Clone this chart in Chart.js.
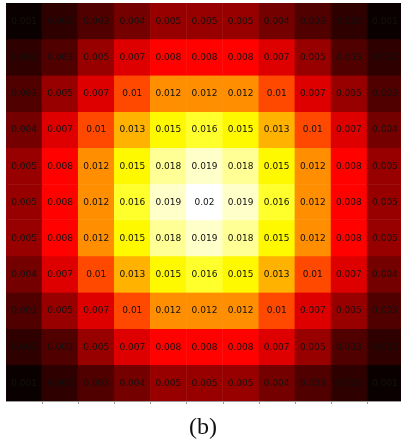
<!DOCTYPE html>
<html>
<head>
<meta charset="utf-8">
<script src="https://cdn.jsdelivr.net/npm/chart.js@4/dist/chart.umd.min.js"></script>
<style>
  html, body { margin: 0; padding: 0; background: #fff; overflow: hidden; width: 401px; height: 448px; }
  #wrap { position: absolute; left: 0; top: 0; width: 410px; height: 448px; }
  #cap { position: absolute; left: 0; width: 406px; top: 413px; text-align: center;
         font-family: "Liberation Serif", "DejaVu Serif", serif; font-size: 24px; color: #111; }
</style>
</head>
<body>
<div id="wrap"><canvas id="c" width="410" height="448"></canvas></div>
<div id="cap">(b)</div>
<script>
// Column and row labels (indices of the 11x11 grid)
const columns = ["0","1","2","3","4","5","6","7","8","9","10"];
const rowsLabels = ["0","1","2","3","4","5","6","7","8","9","10"];

// Cell values, one array per row (top to bottom)
const row0  = [0.001, 0.002, 0.003, 0.004, 0.005, 0.005, 0.005, 0.004, 0.003, 0.002, 0.001];
const row1  = [0.002, 0.003, 0.005, 0.007, 0.008, 0.008, 0.008, 0.007, 0.005, 0.003, 0.002];
const row2  = [0.003, 0.005, 0.007, 0.01,  0.012, 0.012, 0.012, 0.01,  0.007, 0.005, 0.003];
const row3  = [0.004, 0.007, 0.01,  0.013, 0.015, 0.016, 0.015, 0.013, 0.01,  0.007, 0.004];
const row4  = [0.005, 0.008, 0.012, 0.015, 0.018, 0.019, 0.018, 0.015, 0.012, 0.008, 0.005];
const row5  = [0.005, 0.008, 0.012, 0.016, 0.019, 0.02,  0.019, 0.016, 0.012, 0.008, 0.005];
const row6  = [0.005, 0.008, 0.012, 0.015, 0.018, 0.019, 0.018, 0.015, 0.012, 0.008, 0.005];
const row7  = [0.004, 0.007, 0.01,  0.013, 0.015, 0.016, 0.015, 0.013, 0.01,  0.007, 0.004];
const row8  = [0.003, 0.005, 0.007, 0.01,  0.012, 0.012, 0.012, 0.01,  0.007, 0.005, 0.003];
const row9  = [0.002, 0.003, 0.005, 0.007, 0.008, 0.008, 0.008, 0.007, 0.005, 0.003, 0.002];
const row10 = [0.001, 0.002, 0.003, 0.004, 0.005, 0.005, 0.005, 0.004, 0.003, 0.002, 0.001];
const grid = [row0,row1,row2,row3,row4,row5,row6,row7,row8,row9,row10];

const vmin = 0.001, vmax = 0.02;

// matplotlib "hot" colormap
function hot(v) {
  let x = (v - vmin) / (vmax - vmin);
  x = Math.max(0, Math.min(1, x));
  const r1 = 0.365079, g1 = 0.746032;
  const r = x < r1 ? 0.0416 + (1 - 0.0416) * x / r1 : 1;
  const g = x < r1 ? 0 : (x < g1 ? (x - r1) / (g1 - r1) : 1);
  const b = x < g1 ? 0 : (x - g1) / (1 - g1);
  return `rgb(${Math.round(r*255)},${Math.round(g*255)},${Math.round(b*255)})`;
}

const datasets = grid.map((vals, r) => ({
  label: rowsLabels[r],
  data: vals.map(() => [r, r + 1]),
  values: vals,
  backgroundColor: vals.map(hot),
  borderColor: vals.map(hot),
  borderWidth: 0.6,
  borderSkipped: false,
  barPercentage: 1.0,
  categoryPercentage: 1.0,
  grouped: false
}));

const annotate = {
  id: 'annotate',
  afterDatasetsDraw(chart) {
    const ctx = chart.ctx;
    ctx.save();
    ctx.font = '9px "DejaVu Sans"';
    ctx.fillStyle = '#111111';
    ctx.textAlign = 'center';
    ctx.textBaseline = 'middle';
    chart.data.datasets.forEach((ds, di) => {
      const meta = chart.getDatasetMeta(di);
      meta.data.forEach((el, i) => {
        const cy = (el.y + el.base) / 2;
        ctx.fillText(String(ds.values[i]), el.x, cy + 0.5);
      });
    });
    // bottom spine with ticks at cell boundaries
    const a = chart.chartArea;
    ctx.strokeStyle = '#9a9a9a';
    ctx.lineWidth = 1;
    ctx.beginPath();
    ctx.moveTo(a.left, a.bottom + 0.5);
    ctx.lineTo(a.right, a.bottom + 0.5);
    const xs = chart.scales.x;
    for (let i = 0; i < columns.length - 1; i++) {
      const xb = Math.round((xs.getPixelForValue(i) + xs.getPixelForValue(i + 1)) / 2) + 0.5;
      ctx.moveTo(xb, a.bottom);
      ctx.lineTo(xb, a.bottom + 3);
    }
    ctx.stroke();
    ctx.restore();
  }
};

new Chart(document.getElementById('c'), {
  type: 'bar',
  data: { labels: columns, datasets },
  options: {
    responsive: false,
    animation: false,
    layout: { padding: { left: 6, right: 7, top: 3, bottom: 47 } },
    plugins: { legend: { display: false }, tooltip: { enabled: false }, title: { display: false } },
    scales: {
      x: { type: 'category', display: false, offset: true, grid: { display: false } },
      y: { type: 'linear', display: false, min: 0, max: 11, reverse: true, grid: { display: false } }
    }
  },
  plugins: [annotate]
});
</script>
</body>
</html>
